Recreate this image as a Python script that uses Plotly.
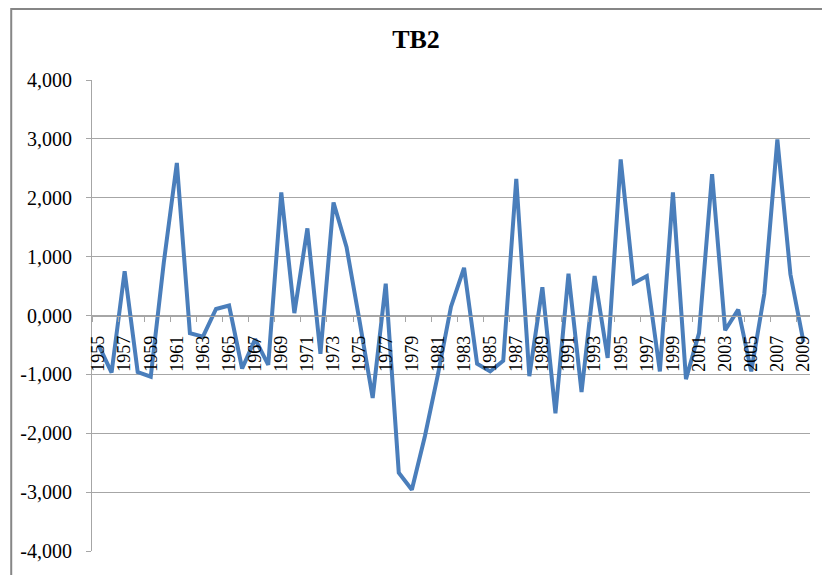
import plotly.graph_objects as go

years = list(range(1955, 2010))
values = [
    -500, -970, 750, -960, -1040, 900, 2590, -300, -360, 110,
    170, -900, -400, -840, 2090, 40, 1480, -650, 1920, 1160,
    -100, -1400, 540, -2670, -2960, -2050, -1000, 150, 810, -820,
    -950, -770, 2320, -1030, 480, -1660, 710, -1300, 670, -720,
    2650, 550, 670, -950, 2090, -1080, -300, 2400, -250, 100,
    -950, 370, 2990, 700, -450,
]
x_tick_years = list(range(1955, 2010, 2))
x_tick_labels = [str(y) for y in x_tick_years]
y_tick_vals = [4000, 3000, 2000, 1000, 0, -1000, -2000, -3000, -4000]
y_tick_labels = ["4,000", "3,000", "2,000", "1,000", "0,000",
                 "-1,000", "-2,000", "-3,000", "-4,000"]

SERIF = "Liberation Serif, Times New Roman, serif"
GRID = "#a6a6a6"

W, H = 822, 567
L, T, R, B = 82, 72, 20, 24
PW, PH = W - L - R, H - T - B

fig = go.Figure()
fig.add_trace(go.Scatter(
    x=years, y=values, mode="lines",
    line=dict(color="#4a7ebb", width=4),
    showlegend=False, hoverinfo="skip",
))

fig.update_layout(
    width=W, height=H,
    margin=dict(l=L, r=R, t=T, b=B),
    paper_bgcolor="white", plot_bgcolor="white",
    title=dict(text="<b>TB2</b>", x=408 / W, xref="container", xanchor="center",
               y=1 - 31 / H, yref="container", yanchor="middle",
               font=dict(family=SERIF, size=26, color="black")),
    xaxis=dict(
        range=[1954.5, 2009.5], anchor="free", position=0.5,
        showline=True, linecolor=GRID, linewidth=1,
        showgrid=False, zeroline=False,
        tickmode="array", tickvals=x_tick_years, ticktext=x_tick_labels,
        ticks="outside", ticklen=0, tickangle=-90,
        ticklabelstandoff=12,
        tickfont=dict(family=SERIF, size=18, color="black"),
        minor=dict(tick0=1954.5, dtick=2, ticks="outside", ticklen=5,
                   tickcolor=GRID, tickwidth=1, showgrid=False),
    ),
    yaxis=dict(
        range=[-4000, 4000],
        showline=True, linecolor=GRID, linewidth=1,
        showgrid=True, gridcolor=GRID, gridwidth=1, zeroline=False,
        tickmode="array", tickvals=y_tick_vals, ticktext=y_tick_labels,
        ticks="outside", ticklen=5, tickcolor=GRID,
        ticklabelstandoff=10,
        tickfont=dict(family=SERIF, size=20, color="black"),
    ),
    shapes=[dict(type="rect", xref="paper", yref="paper",
                 x0=(1 - L) / PW, x1=1.2,
                 y0=-0.2, y1=(PH + T - 1) / PH,
                 line=dict(color="#868686", width=2), layer="below")],
)

fig.write_html("out.html")
